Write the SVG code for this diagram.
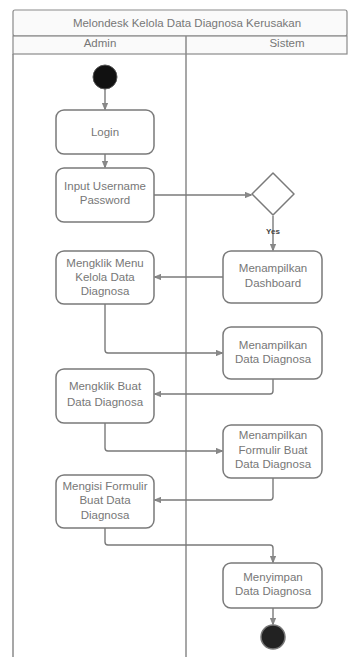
<svg xmlns="http://www.w3.org/2000/svg" width="350" height="657" viewBox="0 0 350 657">
<style>
.lane{fill:none;stroke:#8a8a8a;stroke-width:1.5}
.hdr{fill:#fafafa;stroke:#8a8a8a;stroke-width:1.2}
.node{fill:#ffffff;stroke:#7a7a7a;stroke-width:1.5}
.t{font-family:"Liberation Sans",Arial,sans-serif;font-size:11.5px;fill:#777777;text-anchor:middle}
.h{font-family:"Liberation Sans",Arial,sans-serif;font-size:11.5px;fill:#777777;text-anchor:middle}
.c{fill:none;stroke:#7a7a7a;stroke-width:1.4}
.lbl{font-family:"Liberation Sans",Arial,sans-serif;font-size:8px;font-weight:bold;fill:#444;text-anchor:middle}
</style>
<defs>
<marker id="ah" viewBox="0 0 10 10" refX="9" refY="5" markerWidth="7" markerHeight="7" orient="auto" markerUnits="userSpaceOnUse">
<path d="M0,1 L10,5 L0,9 Z" fill="#8a8a8a" stroke="#7a7a7a" stroke-width="1"/>
</marker>
</defs>
<rect width="350" height="657" fill="#ffffff"/>
<g id="pool">
<rect class="hdr" x="13" y="10" width="334" height="26" rx="2"/>
<rect class="hdr" x="13" y="36" width="334" height="18"/>
<line class="lane" x1="186" y1="36" x2="186" y2="657"/>
<line class="lane" x1="13" y1="54" x2="13" y2="657"/>
<text class="h" x="187" y="27" font-size="12">Melondesk Kelola Data Diagnosa Kerusakan</text>
<text class="h" x="100" y="47">Admin</text>
<text class="h" x="287" y="47">Sistem</text>
</g>
<g id="connectors">
<line class="c" x1="105" y1="89" x2="105" y2="109" marker-end="url(#ah)"/>
<line class="c" x1="105" y1="154" x2="105" y2="167" marker-end="url(#ah)"/>
<line class="c" x1="154" y1="195" x2="251" y2="195" marker-end="url(#ah)"/>
<line class="c" x1="273" y1="216" x2="273" y2="250" marker-end="url(#ah)"/>
<line class="c" x1="223" y1="277" x2="155" y2="277" marker-end="url(#ah)"/>
<path class="c" d="M105,304 V350 Q105,353 108,353 H222" marker-end="url(#ah)"/>
<path class="c" d="M273,379 V391 Q273,394 270,394 H155" marker-end="url(#ah)"/>
<path class="c" d="M105,423 V448 Q105,451 108,451 H222" marker-end="url(#ah)"/>
<path class="c" d="M273,478 V497 Q273,500 270,500 H155" marker-end="url(#ah)"/>
<path class="c" d="M105,528 V542 Q105,545 108,545 H270 Q273,545 273,548 V562" marker-end="url(#ah)"/>
<line class="c" x1="273" y1="608" x2="273" y2="624" marker-end="url(#ah)"/>
<text class="lbl" x="273" y="234">Yes</text>
</g>
<g id="start"><circle cx="105" cy="77" r="12" fill="#111" stroke="#555" stroke-width="1"/></g>
<g id="login"><rect class="node" x="56" y="110" width="98" height="44" rx="8"/><text class="t" x="105" y="136">Login</text></g>
<g id="input"><rect class="node" x="56" y="168" width="98" height="54" rx="8"/><text class="t" x="105" y="190">Input Username</text><text class="t" x="105" y="204">Password</text></g>
<g id="decision"><path class="node" d="M273,173 L294,194 L273,215 L252,194 Z" stroke-linejoin="round"/></g>
<g id="dashboard"><rect class="node" x="223" y="251" width="99" height="52" rx="8"/><text class="t" x="273" y="272">Menampilkan</text><text class="t" x="273" y="287">Dashboard</text></g>
<g id="menu"><rect class="node" x="56" y="251" width="98" height="53" rx="8"/><text class="t" x="105" y="267">Mengklik Menu</text><text class="t" x="105" y="281">Kelola Data</text><text class="t" x="105" y="295">Diagnosa</text></g>
<g id="tampil"><rect class="node" x="223" y="327" width="99" height="52" rx="8"/><text class="t" x="273" y="349">Menampilkan</text><text class="t" x="273" y="363">Data Diagnosa</text></g>
<g id="buat"><rect class="node" x="56" y="369" width="98" height="54" rx="8"/><text class="t" x="105" y="390">Mengklik Buat</text><text class="t" x="105" y="406">Data Diagnosa</text></g>
<g id="formulir"><rect class="node" x="223" y="425" width="99" height="53" rx="8"/><text class="t" x="273" y="439">Menampilkan</text><text class="t" x="273" y="454">Formulir Buat</text><text class="t" x="273" y="468">Data Diagnosa</text></g>
<g id="isi"><rect class="node" x="56" y="475" width="98" height="53" rx="8"/><text class="t" x="105" y="490">Mengisi Formulir</text><text class="t" x="105" y="504">Buat Data</text><text class="t" x="105" y="519">Diagnosa</text></g>
<g id="simpan"><rect class="node" x="223" y="563" width="99" height="45" rx="8"/><text class="t" x="273" y="581">Menyimpan</text><text class="t" x="273" y="595">Data Diagnosa</text></g>
<g id="end"><circle cx="273" cy="637" r="12" fill="#222" stroke="#777" stroke-width="1.5"/></g>
</svg>
